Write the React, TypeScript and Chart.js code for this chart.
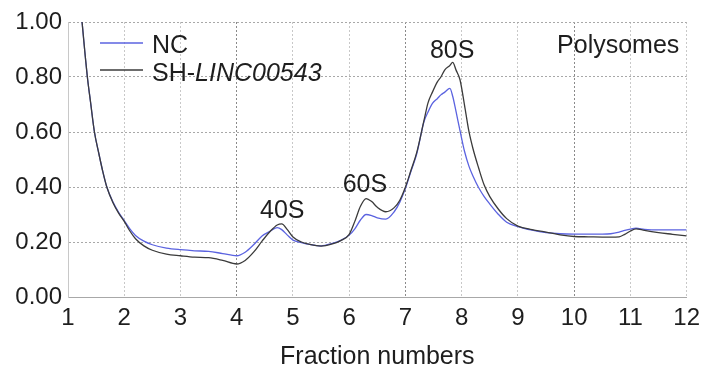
import { useEffect, useRef } from 'react';
import { Chart, registerables } from 'chart.js';

Chart.register(...registerables);

// ---- data ----
const fractions = [
  1.2, 1.25, 1.3, 1.35, 1.4, 1.47, 1.55, 1.62, 1.69, 1.8, 1.9, 2.0, 2.1, 2.2, 2.35, 2.5, 2.75,
  3.0, 3.25, 3.5, 3.75, 4.0, 4.15, 4.3, 4.45, 4.6, 4.72, 4.8, 4.9, 5.0, 5.15, 5.3, 5.5, 5.7,
  5.85, 6.0, 6.1, 6.2, 6.3, 6.4, 6.5, 6.65, 6.8, 6.9, 7.0, 7.1, 7.2, 7.33, 7.4, 7.48, 7.57,
  7.63, 7.7, 7.79, 7.84, 7.9, 7.97, 8.05, 8.13, 8.2, 8.3, 8.4, 8.5, 8.65, 8.8, 9.0, 9.25, 9.5,
  9.75, 10.0, 10.25, 10.5, 10.65, 10.8, 10.9, 11.0, 11.1, 11.25, 11.5, 11.75, 12.0,
];
const ncValues = [
  1.12, 1.0, 0.89, 0.79, 0.71, 0.6, 0.52, 0.455, 0.4, 0.345, 0.308, 0.278, 0.248, 0.224, 0.203,
  0.19, 0.178, 0.172, 0.168, 0.166, 0.158, 0.15, 0.163, 0.19, 0.222, 0.24, 0.252, 0.245, 0.225,
  0.207, 0.198, 0.191, 0.186, 0.195, 0.206, 0.225, 0.248, 0.28, 0.3, 0.296, 0.288, 0.283, 0.31,
  0.345, 0.395, 0.458, 0.52, 0.638, 0.672, 0.704, 0.722, 0.735, 0.745, 0.759, 0.73, 0.674, 0.605,
  0.53, 0.475, 0.44, 0.398, 0.365, 0.338, 0.301, 0.272, 0.256, 0.243, 0.234, 0.23, 0.229, 0.229,
  0.229, 0.23, 0.236, 0.242, 0.247, 0.25, 0.246, 0.244, 0.244, 0.244,
];
const shValues = [
  1.12, 1.0, 0.89, 0.79, 0.71, 0.6, 0.52, 0.455, 0.4, 0.343, 0.305, 0.275, 0.24, 0.212, 0.186,
  0.17, 0.156, 0.15, 0.145, 0.143, 0.133, 0.12, 0.133, 0.163, 0.203, 0.24, 0.262, 0.266, 0.245,
  0.218, 0.2, 0.191, 0.185, 0.193, 0.205, 0.228, 0.275, 0.33, 0.358, 0.347, 0.326, 0.31, 0.325,
  0.352, 0.4, 0.462, 0.525, 0.642, 0.705, 0.745, 0.783, 0.8, 0.826, 0.842, 0.853, 0.825, 0.79,
  0.698, 0.601, 0.54, 0.47, 0.407, 0.365, 0.32, 0.285, 0.258, 0.245, 0.236, 0.226, 0.22, 0.219,
  0.218, 0.218, 0.219, 0.228, 0.24, 0.248, 0.242, 0.234, 0.228, 0.222,
];
const seriesLabels = ['NC', 'SH-LINC00543'];
const xTicks = [1, 2, 3, 4, 5, 6, 7, 8, 9, 10, 11, 12];
const yTicks = [0, 0.2, 0.4, 0.6, 0.8, 1.0];
const darkGridX = [4, 7, 10];
const peakLabels = ['40S', '60S', '80S'];
const peakLabelX = [4.81, 6.28, 7.83];
const peakLabelY = [0.286, 0.383, 0.868];
const cornerLabel = 'Polysomes';
const xTitle = 'Fraction numbers';

const NC_COLOR = '#5b63e0';
const SH_COLOR = '#3b3b3b';
const TEXT = '#1e1e1e';
const FAMILY = '"Liberation Sans", Arial, Helvetica, sans-serif';

export default function App() {
  const ref = useRef<HTMLCanvasElement>(null);

  useEffect(() => {
    if (!ref.current) return;
    const overlay = {
      id: 'overlay',
      afterDatasetsDraw(chart: any) {
        const { ctx, chartArea, scales } = chart;
        const xs = scales.x;
        const ys = scales.y;
        ctx.save();
        ctx.fillStyle = TEXT;
        ctx.textBaseline = 'alphabetic';
        ctx.font = `25px ${FAMILY}`;
        ctx.textAlign = 'center';
        peakLabels.forEach((t, i) => {
          ctx.fillText(t, xs.getPixelForValue(peakLabelX[i]), ys.getPixelForValue(peakLabelY[i]));
        });
        ctx.textAlign = 'right';
        ctx.fillText(cornerLabel, xs.getPixelForValue(11.87), ys.getPixelForValue(0.887));

        const lx = chartArea.left + 32;
        const ly1 = chartArea.top + 21;
        const ly2 = chartArea.top + 48;
        ctx.lineWidth = 1.6;
        ctx.strokeStyle = NC_COLOR;
        ctx.beginPath();
        ctx.moveTo(lx, ly1);
        ctx.lineTo(lx + 43, ly1);
        ctx.stroke();
        ctx.strokeStyle = SH_COLOR;
        ctx.beginPath();
        ctx.moveTo(lx, ly2);
        ctx.lineTo(lx + 43, ly2);
        ctx.stroke();
        ctx.textAlign = 'left';
        const tx = lx + 52;
        ctx.fillText(seriesLabels[0], tx, ly1 + 9.5);
        const prefix = 'SH-';
        ctx.fillText(prefix, tx, ly2 + 11);
        const w = ctx.measureText(prefix).width;
        ctx.font = `italic 25px ${FAMILY}`;
        ctx.fillText(seriesLabels[1].slice(prefix.length), tx + w, ly2 + 11);
        ctx.restore();
      },
    };

    const chart = new Chart(ref.current, {
      type: 'line',
      data: {
        datasets: [
          {
            label: seriesLabels[1],
            data: fractions.map((f, i) => ({ x: f, y: shValues[i] })),
            borderColor: SH_COLOR,
            borderWidth: 1.3,
            pointRadius: 0,
            cubicInterpolationMode: 'monotone',
            fill: false,
          },
          {
            label: seriesLabels[0],
            data: fractions.map((f, i) => ({ x: f, y: ncValues[i] })),
            borderColor: NC_COLOR,
            borderWidth: 1.3,
            pointRadius: 0,
            cubicInterpolationMode: 'monotone',
            fill: false,
          },
        ],
      },
      options: {
        responsive: false,
        animation: false,
        layout: { padding: { top: 22, right: 16, bottom: 0, left: 0 } },
        plugins: { legend: { display: false }, tooltip: { enabled: false } },
        scales: {
          x: {
            type: 'linear',
            min: 1,
            max: 12,
            afterBuildTicks: (scale: any) => {
              scale.ticks = xTicks.map((v) => ({ value: v }));
            },
            afterFit: (scale: any) => {
              scale.height = 75;
            },
            grid: {
              display: true,
              drawOnChartArea: true,
              drawTicks: false,
              lineWidth: 1,
              color: (c: any) => (darkGridX.includes(c.tick?.value) ? '#8a8a8a' : '#c8c8c8'),
            },
            border: { display: true, color: '#a8a8a8', dash: [2, 2] },
            ticks: {
              autoSkip: false,
              maxRotation: 0,
              padding: 7,
              color: TEXT,
              font: { family: FAMILY, size: 24 },
              callback: (v: any) => String(v),
            },
            title: {
              display: true,
              text: xTitle,
              color: TEXT,
              font: { family: FAMILY, size: 25 },
              padding: { top: 0, bottom: 0 },
            },
          },
          y: {
            type: 'linear',
            min: 0,
            max: 1,
            afterBuildTicks: (scale: any) => {
              scale.ticks = yTicks.map((v) => ({ value: v }));
            },
            afterFit: (scale: any) => {
              scale.width = 68;
            },
            grid: { display: true, drawOnChartArea: true, drawTicks: false, lineWidth: 1, color: '#a8a8a8' },
            border: { display: true, color: '#c8c8c8', dash: [2, 2] },
            ticks: {
              padding: 6,
              color: TEXT,
              font: { family: FAMILY, size: 24 },
              callback: (v: any) => Number(v).toFixed(2),
            },
          },
        },
      },
      plugins: [overlay],
    } as any);
    return () => chart.destroy();
  }, []);

  return (
    <div style={{ position: 'fixed', left: 0, top: 0, width: 707, height: 372, background: '#fff' }}>
      <canvas ref={ref} width={707} height={372} style={{ display: 'block' }} />
    </div>
  );
}
